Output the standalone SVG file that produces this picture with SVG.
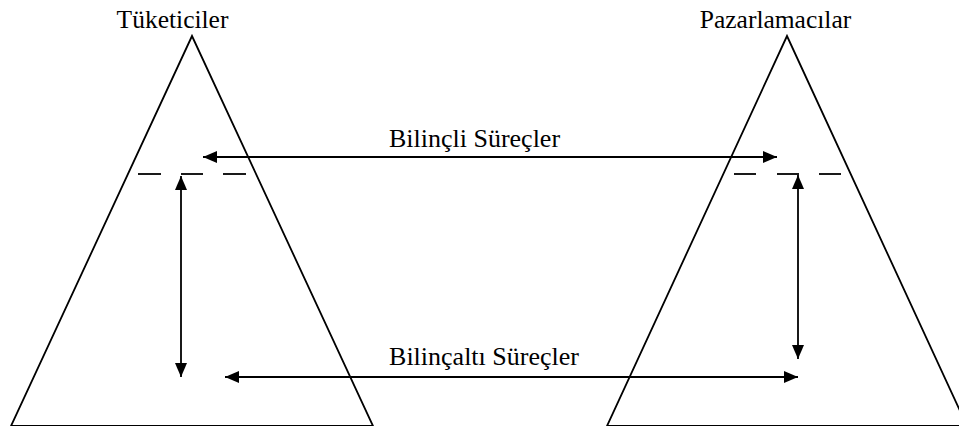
<svg xmlns="http://www.w3.org/2000/svg" width="959" height="426" viewBox="0 0 959 426">
<defs>
<style>
.tri{fill:none;stroke:#000;stroke-width:1.8}
.dash{stroke:#000;stroke-width:1.8}
.arr{stroke:#000;stroke-width:1.8;fill:none;marker-start:url(#ah);marker-end:url(#ah)}
</style>
<marker id="ah" viewBox="0 0 14 12" refX="14" refY="6" markerWidth="14" markerHeight="12" markerUnits="userSpaceOnUse" orient="auto-start-reverse">
<path d="M0,0 L14,6 L0,12 Z" fill="#000"/>
</marker>
</defs>
<rect width="959" height="426" fill="#fff"/>
<g id="tuketiciler">
<polygon class="tri" points="192,36 11,426 373,426"/>
<line class="dash" x1="138" y1="174" x2="161" y2="174"/>
<line class="dash" x1="181" y1="174" x2="203" y2="174"/>
<line class="dash" x1="223" y1="174" x2="246" y2="174"/>
<text x="172.5" y="28" text-anchor="middle" font-family="'Liberation Serif', 'Times New Roman', serif" font-size="25.5" fill="#000">Tüketiciler</text>
</g>
<g id="pazarlamacilar">
<polygon class="tri" points="787,36 607,426 967,426"/>
<line class="dash" x1="734" y1="174" x2="756" y2="174"/>
<line class="dash" x1="777" y1="174" x2="799" y2="174"/>
<line class="dash" x1="819" y1="174" x2="841" y2="174"/>
<text x="775.5" y="28" text-anchor="middle" font-family="'Liberation Serif', 'Times New Roman', serif" font-size="25.5" fill="#000">Pazarlamacılar</text>
</g>
<g id="connectors">
<line class="arr" x1="203" y1="157" x2="777" y2="157"/>
<line class="arr" x1="181" y1="176" x2="181" y2="377"/>
<line class="arr" x1="225" y1="377" x2="798" y2="377"/>
<line class="arr" x1="798" y1="175" x2="798" y2="359"/>
<text x="474.5" y="147" text-anchor="middle" font-family="'Liberation Serif', 'Times New Roman', serif" font-size="26" fill="#000">Bilinçli Süreçler</text>
<text x="484" y="365" text-anchor="middle" font-family="'Liberation Serif', 'Times New Roman', serif" font-size="26" fill="#000">Bilinçaltı Süreçler</text>
</g>
</svg>
